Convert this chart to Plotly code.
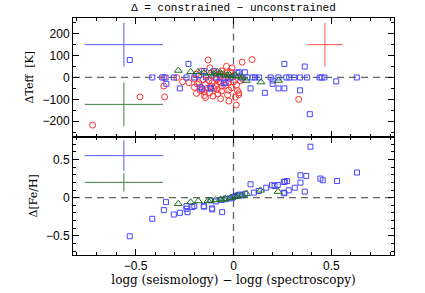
import plotly.graph_objects as go
from plotly.subplots import make_subplots

# ---------------- data ----------------
# Top panel: Delta Teff vs Delta logg
red_x = [-0.72, -0.478, -0.356, -0.356, -0.352, -0.29, -0.26, -0.228, -0.189, -0.20, -0.185, -0.177,
         -0.17, -0.163, -0.16, -0.155, -0.148, -0.143, -0.143, -0.14, -0.13, -0.125, -0.122, -0.121,
         -0.117, -0.112, -0.109, -0.10, -0.095, -0.092, -0.09, -0.083, -0.08, -0.075, -0.07, -0.066,
         -0.066, -0.061, -0.058, -0.05, -0.045, -0.041, -0.036, -0.032, -0.03, -0.024, -0.024, -0.024,
         -0.018, -0.01, -0.007, 0.0, 0.005, 0.014, 0.015, 0.02, 0.027, 0.027, 0.035, 0.044, 0.045,
         0.095, 0.333, -0.20, -0.19, -0.135, -0.15, -0.105, -0.085, -0.06, 0.01, -0.015]
red_y = [-218, -89, 0, -39, -89, 0, -20, -24, -73, -5, -30, -24,
         -60, 29, -55, -10, -82, -32, -92, 5, 80, -15, -70, 44,
         -40, 10, -24, -50, 21, -39, -5, -55, -75, -20, 15, -24,
         -97, -62, -40, -10, 5, -36, 51, 21, -80, -21, -58, -108,
         -5, -47, 44, -20, 10, -126, -35, -60, -70, -79, -15, 70, -5,
         82, -100, -45, 15, -50, -65, -85, -10, 30, -90, 25]

blue_top_x = [-0.53, -0.415, -0.364, -0.347, -0.343, -0.305, -0.274, -0.24, -0.23, -0.20, -0.177, -0.17,
              -0.16, -0.15, -0.14, -0.117, -0.117, -0.10, -0.09, -0.07, -0.05, -0.041, -0.03, -0.01,
              0.02, 0.027, 0.037, 0.058, 0.071, 0.087, 0.097, 0.11, 0.131, 0.16, 0.19, 0.20, 0.20,
              0.23, 0.23, 0.26, 0.26, 0.27, 0.285, 0.31, 0.34, 0.34, 0.364, 0.376, 0.39, 0.44, 0.45,
              0.464, 0.525, 0.63]
blue_top_y = [80, 0, 0, 0, -29, 0, -50, 0, 62, 0, 9, -45,
              -51, 29, 0, -47, -51, 29, 0, 0, -27, -24, 0, 0,
              21, 24, 0, 24, 0, -50, 0, 0, 0, -70, 0, -14, -29,
              0, -50, 62, -50, 0, 0, 0, 0, -59, 50, 0, -168, 0, 0,
              0, -18, 0]

green_top_x = [-0.282, -0.219, -0.182, -0.15, -0.117, -0.10, -0.083, -0.066, -0.05, -0.032, -0.02,
               -0.007, 0.01, 0.027, 0.045, 0.065, 0.14, 0.23]
green_top_y = [32, 26, 26, 20, 21, 15, 26, 21, 15, 10, 12, 6, 8, 6, 0, -14, -21, -14]

# Bottom panel: Delta [Fe/H] vs Delta logg
blue_bot_x = [-0.53, -0.415, -0.356, -0.345, -0.305, -0.274, -0.24, -0.24, -0.235, -0.21, -0.20,
              -0.152, -0.15, -0.109, -0.11, -0.117, -0.058, -0.09, -0.06, -0.04, -0.02, -0.005, 0.0,
              0.01, 0.02, 0.03, 0.045, 0.06, 0.087, 0.104, 0.129, 0.167, 0.197, 0.21, 0.226, 0.257,
              0.257, 0.26, 0.262, 0.274, 0.282, 0.313, 0.342, 0.342, 0.364, 0.372, 0.393, 0.444,
              0.456, 0.529, 0.631]
blue_bot_y = [-0.505, -0.277, -0.163, -0.058, -0.22, -0.198, -0.145, -0.11, -0.19, -0.123, -0.11,
              -0.11, -0.118, -0.154, -0.14, -0.036, -0.189, -0.05, -0.03, -0.02, -0.01, 0.0, 0.01,
              0.02, 0.03, 0.04, 0.03, 0.05, 0.175, 0.066, 0.087, 0.13, 0.162, 0.153, 0.166, 0.205,
              0.066, 0.057, 0.21, 0.218, 0.096, 0.13, 0.293, 0.197, 0.079, 0.284, 0.666, 0.25,
              0.228, 0.218, 0.329]

green_bot_x = [-0.282, -0.219, -0.18, -0.13, -0.117, -0.092, -0.066, -0.05, -0.041, -0.015, 0.01,
               0.02, 0.044, 0.066, 0.138, 0.228]
green_bot_y = [-0.079, -0.058, -0.044, -0.04, -0.036, -0.031, -0.022, -0.02, -0.013, 0.0, 0.013,
               0.02, 0.03, 0.053, 0.096, 0.079]

# representative error crosses: centre x, centre y, half-width x, half-height y
err_top_x = [-0.56, -0.56, 0.467]
err_top_y = [150, -123, 150]
err_top_dx = [0.2, 0.2, 0.09]
err_top_dy = [100, 100, 100]
err_top_col = ["rgb(90,90,240)", "rgb(60,130,60)", "rgb(255,80,80)"]

err_bot_x = [-0.56, -0.56]
err_bot_y = [0.55, 0.2]
err_bot_dx = [0.2, 0.2]
err_bot_dy = [0.2, 0.12]
err_bot_col = ["rgb(90,90,240)", "rgb(60,130,60)"]

# ---------------- figure ----------------
RED = "rgb(255,50,50)"
BLUE = "rgb(70,70,255)"
GREEN = "rgb(30,110,30)"

fig = make_subplots(rows=2, cols=1, shared_xaxes=True, vertical_spacing=0)

for i in range(len(err_top_x)):
    fig.add_trace(go.Scatter(x=[err_top_x[i]], y=[err_top_y[i]], mode="markers",
                             marker=dict(size=0.1, color=err_top_col[i]),
                             error_x=dict(type="data", array=[err_top_dx[i]], width=0, thickness=1, color=err_top_col[i]),
                             error_y=dict(type="data", array=[err_top_dy[i]], width=0, thickness=1, color=err_top_col[i]),
                             showlegend=False, hoverinfo="skip"), row=1, col=1)
for i in range(len(err_bot_x)):
    fig.add_trace(go.Scatter(x=[err_bot_x[i]], y=[err_bot_y[i]], mode="markers",
                             marker=dict(size=0.1, color=err_bot_col[i]),
                             error_x=dict(type="data", array=[err_bot_dx[i]], width=0, thickness=1, color=err_bot_col[i]),
                             error_y=dict(type="data", array=[err_bot_dy[i]], width=0, thickness=1, color=err_bot_col[i]),
                             showlegend=False, hoverinfo="skip"), row=2, col=1)

fig.add_trace(go.Scatter(x=red_x, y=red_y, mode="markers",
                         marker=dict(symbol="circle-open", size=6, color=RED, line=dict(width=1)),
                         showlegend=False), row=1, col=1)
fig.add_trace(go.Scatter(x=blue_top_x, y=blue_top_y, mode="markers",
                         marker=dict(symbol="square-open", size=5, color=BLUE, line=dict(width=1)),
                         showlegend=False), row=1, col=1)
fig.add_trace(go.Scatter(x=green_top_x, y=green_top_y, mode="markers",
                         marker=dict(symbol="triangle-up-open", size=7, color=GREEN, line=dict(width=1)),
                         showlegend=False), row=1, col=1)
fig.add_trace(go.Scatter(x=blue_bot_x, y=blue_bot_y, mode="markers",
                         marker=dict(symbol="square-open", size=5, color=BLUE, line=dict(width=1)),
                         showlegend=False), row=2, col=1)
fig.add_trace(go.Scatter(x=green_bot_x, y=green_bot_y, mode="markers",
                         marker=dict(symbol="triangle-up-open", size=7, color=GREEN, line=dict(width=1)),
                         showlegend=False), row=2, col=1)

# dashed zero lines
for r in (1, 2):
    fig.add_hline(y=0, line=dict(color="rgb(100,100,100)", width=1.3, dash="7px,5px"), row=r, col=1, layer="below")
    fig.add_vline(x=0, line=dict(color="rgb(100,100,100)", width=1.3, dash="7px,5px"), row=r, col=1, layer="below")

tickfont = dict(family="Liberation Sans, Arial, sans-serif", size=12, color="black")
common = dict(showline=True, linecolor="black", linewidth=1, mirror="allticks",
              ticks="inside", ticklen=6, tickcolor="black", showgrid=False, zeroline=False,
              tickfont=tickfont, automargin=False)
titlefont = dict(family="DejaVu Serif", size=11, color="black")

fig.update_xaxes(range=[-0.82, 0.82], tickvals=[-0.5, 0, 0.5], ticktext=["\u22120.5", "0", "0.5"],
                 minor=dict(dtick=0.1, tick0=0, ticks="inside", ticklen=3, tickcolor="black"), **common)
fig.update_xaxes(showticklabels=False, row=1, col=1)
fig.update_xaxes(title=dict(text="logg (seismology) \u2212 logg (spectroscopy)",
                            font=dict(family="DejaVu Serif", size=12, color="black"), standoff=0),
                 row=2, col=1)

fig.update_yaxes(range=[-270, 272], tickvals=[-200, -100, 0, 100, 200],
                 ticktext=["\u2212200", "\u2212100", "0", "100", "200"],
                 minor=dict(dtick=50, tick0=0, ticks="inside", ticklen=3, tickcolor="black"),
                 title=dict(text="\u0394Teff  [K]", font=titlefont, standoff=6),
                 row=1, col=1, **common)
fig.update_yaxes(range=[-0.75, 0.8], tickvals=[-0.5, 0, 0.5], ticktext=["\u22120.5", "0", "0.5"],
                 minor=dict(dtick=0.1, tick0=0, ticks="inside", ticklen=3, tickcolor="black"),
                 title=dict(text="\u0394[Fe/H]", font=titlefont, standoff=6),
                 row=2, col=1, **common)

fig.update_layout(
    width=425, height=293,
    margin=dict(l=73, r=31, t=18, b=38, autoexpand=False),
    paper_bgcolor="white", plot_bgcolor="white",
    title=dict(text="\u0394 = constrained \u2212 unconstrained", x=0.5, xref="paper",
               y=1 - 7 / 293, yref="container", yanchor="middle", automargin=False,
               font=dict(family="Liberation Mono, monospace", size=11, color="black")),
)

fig.write_html("out.html", config={"displayModeBar": False},
               post_script="document.body.style.margin='0';document.body.style.overflow='hidden';")
